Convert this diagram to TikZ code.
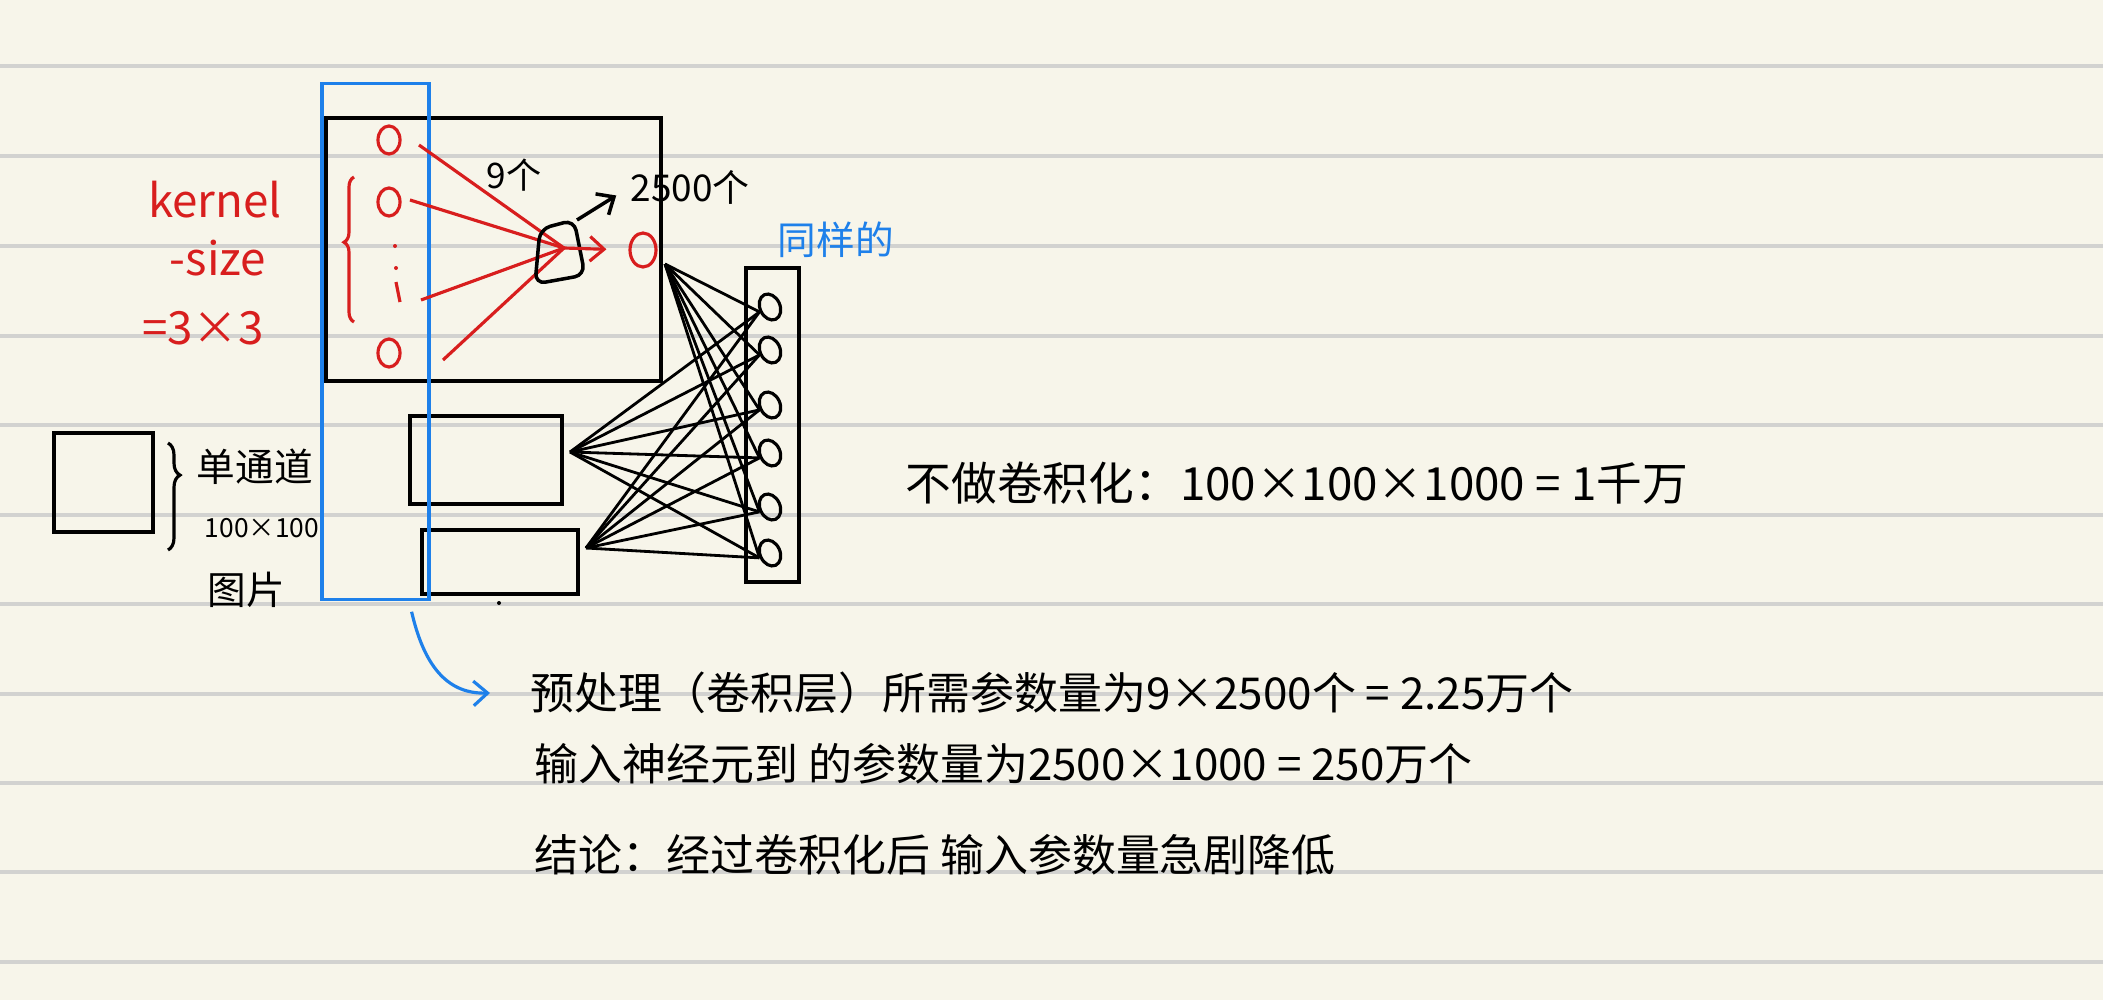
\documentclass[tikz,border=0pt]{standalone}
\usepackage{fontspec}
\newfontfamily\cjk{Noto Sans CJK SC}
\usetikzlibrary{arrows.meta,shapes.geometric,decorations.pathreplacing}
\definecolor{paper}{HTML}{F7F5EA}
\definecolor{ruleline}{HTML}{D2D2D0}
\definecolor{inkblue}{HTML}{1E80EA}
\definecolor{inkred}{HTML}{D81E1E}

\begin{document}
\begin{tikzpicture}[x=0.01cm, y=-0.01cm, >={Straight Barb[length=4pt,width=7pt]},
    hand/.style={font=\cjk\fontsize{#1}{#1}\selectfont, inner sep=0pt},
    frame/.style={draw, line width=1.1pt, inner sep=0pt},
    dot/.style={ellipse, draw, line width=0.9pt, minimum width=0.22cm, minimum height=0.28cm, inner sep=0pt},
    kline/.style={inkred, line width=0.9pt}]
    \fill[paper] (0,0) rectangle (2103,1000);
    \useasboundingbox (0,0) rectangle (2103,1000);
    \foreach \y in {66,156,246,336,425,515,604,694,783,872,962}
        \draw[ruleline, line width=1pt] (0,\y) -- (2103,\y);

    % input picture
    \node[frame, minimum width=0.99cm, minimum height=0.99cm] (pic) at (103.5,482.5) {};
    \draw[line width=0.9pt, decorate, decoration={brace, amplitude=0.12cm, aspect=0.3}]
        (168,443) -- (168,550);
    \node[hand=11pt] (single) at (255,467) {单通道};
    \node[hand=7.5pt] (picsize) at (262,528) {100×100};
    \node[hand=11pt] (piclabel) at (246,590) {图片};

    % feature maps
    \node[frame, minimum width=3.35cm, minimum height=2.63cm] (fmap) at (493.5,249.5) {};
    \node[frame, minimum width=1.52cm, minimum height=0.88cm] (fmapb) at (486,460) {};
    \node[frame, minimum width=1.56cm, minimum height=0.64cm] (fmapc) at (500,562) {};
    \node[draw=inkblue, line width=0.9pt, minimum width=1.07cm, minimum height=5.15cm] (window) at (375.5,341.5) {};
    \fill (499,603) circle (2);

    % kernel
    \node[hand=13pt, text=inkred] (kernel) at (215,200) {kernel};
    \node[hand=13pt, text=inkred] (ksize) at (218,258) {-size};
    \node[hand=13pt, text=inkred] (kdim) at (203,328) {=3×3};
    \draw[kline, decorate, decoration={brace, amplitude=0.1cm, aspect=0.55}]
        (354,322) -- (354,177);
    \node[dot, draw=inkred] (k1) at (389,140) {};
    \node[dot, draw=inkred] (k2) at (389,202) {};
    \node[dot, draw=inkred] (k4) at (389,353) {};
    \fill[inkred] (395,246) circle (2);
    \fill[inkred] (396,268) circle (2);
    \draw[kline] (396,282) -- (400,302);

    \coordinate (unit) at (564,248);
    \foreach \x/\y [count=\i] in {419/145,410/200,421/300,443/360}
        \coordinate (r\i) at (\x,\y);
    \foreach \i in {1,...,4}
        \draw[kline] (r\i) -- (unit);
    \draw[line width=1pt, rounded corners=3] (540,229) -- (574,220) -- (585,275) -- (535,284) -- cycle;
    \node[dot, draw=inkred, minimum width=0.26cm, minimum height=0.34cm] (kout) at (643,250) {};
    \draw[kline, ->, shorten >=0.22cm] (unit) -- (kout.west);

    \node[hand=10pt] (nine) at (514,175) {9个};
    \node[hand=10.5pt] (count) at (690,187) {2500个};
    \coordinate (corner) at (577,220);
    \draw[line width=1pt, ->, shorten >=0.16cm] (corner) -- (count.west);

    % hidden layer
    \node[frame, line width=1pt, minimum width=0.53cm, minimum height=3.14cm] (layer) at (772.5,425) {};
    \foreach \y [count=\i] in {307,350,405,453,507,553}
        \node[dot, rotate=25, minimum width=0.2cm, minimum height=0.27cm] (n\i) at (770,\y) {};
    \node[hand=11pt, text=inkblue] (same) at (836,240) {同样的};

    \coordinate (s1) at (665,264);
    \coordinate (s2) at (570,452);
    \coordinate (s3) at (586,548);
    \foreach \s in {s1,s2,s3}
        \foreach \i in {1,...,6}
            \draw[line width=0.8pt] (\s) -- (n\i.west);

    % notes
    \node[hand=13pt, anchor=west] (full) at (905,483) {不做卷积化：100×100×1000 = 1千万};
    \node[hand=12.5pt, anchor=west] (pre) at (530,693) {预处理（卷积层）所需参数量为9×2500个 = 2.25万个};
    \node[hand=12.5pt, anchor=west] (dense) at (534,764) {输入神经元到 的参数量为2500×1000 = 250万个};
    \node[hand=12.5pt, anchor=west] (result) at (534,855) {结论：经过卷积化后 输入参数量急剧降低};
    \draw[inkblue, line width=0.9pt, ->] ([shift={(-19,11)}]window.south east)
        .. controls (425,670) and (450,694) .. ([xshift=-0.4cm]pre.west);
\end{tikzpicture}
\end{document}
